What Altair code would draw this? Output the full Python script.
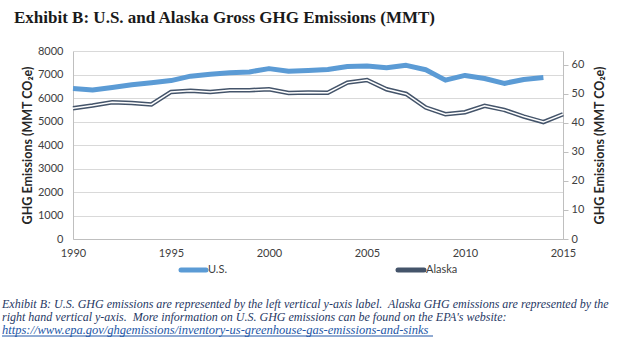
import altair as alt
import pandas as pd

years_us = list(range(1990, 2015))
us_vals = [6400, 6340, 6450, 6560, 6650, 6740, 6930, 7010, 7070, 7110, 7250, 7140, 7170,
           7210, 7340, 7360, 7290, 7390, 7200, 6760, 6960, 6830, 6620, 6790, 6870]
years_ak = list(range(1990, 2016))
ak_vals = [45.1, 46.0, 47.1, 46.9, 46.4, 50.7, 51.1, 50.7, 51.3, 51.3, 51.6, 50.3, 50.5,
           50.4, 53.9, 54.8, 51.6, 50.0, 45.3, 43.0, 43.7, 45.9, 44.5, 42.2, 40.3, 43.0]
x_ticks = [1990, 1995, 2000, 2005, 2010, 2015]
left_ticks = [0, 1000, 2000, 3000, 4000, 5000, 6000, 7000, 8000]
right_ticks = [0, 10, 20, 30, 40, 50, 60]

title_text = "Exhibit B: U.S. and Alaska Gross GHG Emissions (MMT)"
y_title = "GHG Emissions (MMT CO₂e)"
caption = [
    "Exhibit B: U.S. GHG emissions are represented by the left vertical y-axis label.\u00a0 Alaska GHG emissions are represented by the",
    "right hand vertical y-axis.\u00a0 More information on U.S. GHG emissions can be found on the EPA's website:",
]
link = "https://www.epa.gov/ghgemissions/inventory-us-greenhouse-gas-emissions-and-sinks"

us_df = pd.DataFrame({"year": years_us, "us": us_vals})
ak_df = pd.DataFrame({"year": years_ak, "ak": ak_vals})

FONT = "Lato"
LBL = "#404040"
GRID = "#D9D9D9"
BLUE = "#5B9BD5"
DARK = "#44546A"

x_enc = alt.X("year:Q", scale=alt.Scale(domain=[1990, 2015], nice=False, zero=False),
              axis=alt.Axis(values=x_ticks, format="d", title=None, grid=False,
                            domainColor="#BFBFBF", ticks=False, labelPadding=8,
                            labelFlush=False, labelOverlap=False,
                            labelFont=FONT, labelFontSize=11, labelColor=LBL))

us_line = alt.Chart(us_df).mark_line(color=BLUE, strokeWidth=5, strokeJoin="round").encode(
    x=x_enc,
    y=alt.Y("us:Q", scale=alt.Scale(domain=[0, 8000], nice=False),
            axis=alt.Axis(orient="left", values=left_ticks, format="d", title=y_title, grid=True,
                          gridColor=GRID, domainColor="#BFBFBF", ticks=False,
                          labelPadding=10, labelFont=FONT, labelFontSize=11, labelColor=LBL,
                          titleFont=FONT, titleFontSize=12.5, titleColor="#262626",
                          titleFontWeight="bold", titlePadding=3)),
)

ak_y = alt.Y("ak:Q", scale=alt.Scale(domain=[0, 64.8], nice=False),
             axis=alt.Axis(orient="right", values=right_ticks, format="d", title=y_title, grid=False,
                           domainColor="#BFBFBF", tickColor="#BFBFBF", tickSize=5,
                           labelPadding=3, labelFont=FONT, labelFontSize=11, labelColor=LBL,
                           titleFont=FONT, titleFontSize=12.5, titleColor="#262626",
                           titleFontWeight="bold", titleAngle=270, titleX=36, titleY=94,
                           titleAlign="center", titleBaseline="middle"))
ak_dark = alt.Chart(ak_df).mark_line(color=DARK, strokeWidth=4.5).encode(x=x_enc, y=ak_y)
ak_white = alt.Chart(ak_df).mark_line(color="white", strokeWidth=1.5).encode(x=x_enc, y=ak_y)
alaska = alt.layer(ak_dark, ak_white)

ann = pd.DataFrame({"d": [0]})
def txt(text, x, y, **kw):
    return alt.Chart(ann).mark_text(text=text, align="left", baseline="middle", **kw).encode(
        x=alt.value(x), y=alt.value(y))

title = txt(title_text, -59, -33, font="Liberation Serif", fontSize=17, fontWeight="bold", color="#1a1a1a")
cap1 = txt(caption[0], -71, 253, font="Liberation Serif", fontSize=12, fontStyle="italic", color="#1F3864")
cap2 = txt(caption[1], -71, 266, font="Liberation Serif", fontSize=12, fontStyle="italic", color="#1F3864")
cap3 = txt(link, -71, 279, font="Liberation Serif", fontSize=12.5, fontStyle="italic", color="#2356A6")
underline = alt.Chart(ann).mark_rule(color="#2356A6", strokeWidth=1).encode(
    x=alt.value(-71), x2=alt.value(360), y=alt.value(285))

leg_us = alt.Chart(ann).mark_rule(color=BLUE, strokeWidth=5, strokeCap="round").encode(
    x=alt.value(108), x2=alt.value(133), y=alt.value(219))
leg_ak = alt.Chart(ann).mark_rule(color=DARK, strokeWidth=5, strokeCap="round").encode(
    x=alt.value(325), x2=alt.value(351), y=alt.value(219))
leg_us_t = txt("U.S.", 135, 219, font=FONT, fontSize=11, color=LBL)
leg_ak_t = txt("Alaska", 353, 219, font=FONT, fontSize=11, color=LBL)

chart = alt.layer(
    us_line, alaska, title, cap1, cap2, cap3, underline, leg_us, leg_ak, leg_us_t, leg_ak_t
).resolve_scale(y="independent").properties(
    width=490, height=188,
    autosize=alt.AutoSizeParams(type="none"),
    padding={"left": 73, "top": 51, "right": 58, "bottom": 107},
    background="white",
).configure_view(stroke=None)

chart.save("out.html", embed_options={"renderer": "svg", "actions": False})
